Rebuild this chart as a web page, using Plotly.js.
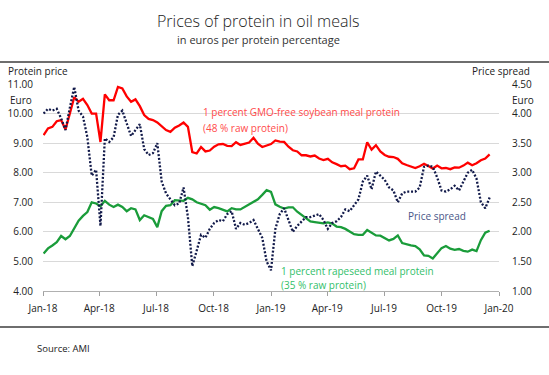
<!DOCTYPE html>
<html>
<head>
<meta charset="utf-8">
<script src="https://cdn.plot.ly/plotly-3.0.1.min.js"></script>
<style>html,body{margin:0;padding:0;background:#fff;}#chart{width:549px;height:375px;}</style>
</head>
<body>
<div id="chart"></div>
<script>
// Weekly observations, starting first week of January 2018
const startDate = '2018-01-02';
const soybeanProtein = [9.27,9.50,9.55,9.74,9.78,9.46,10.00,10.55,10.40,10.50,
10.29,10.00,10.00,9.04,10.65,10.45,10.45,10.90,10.85,10.58,
10.40,10.48,10.25,9.95,9.82,9.78,9.70,9.58,9.44,9.38,
9.52,9.60,9.70,9.55,8.70,8.65,8.87,8.72,8.75,8.88,
8.96,8.97,8.91,8.90,9.03,8.94,8.98,9.02,9.18,8.98,
8.87,8.92,8.97,9.09,9.05,9.04,8.88,8.76,8.72,8.59,
8.59,8.55,8.58,8.48,8.43,8.47,8.35,8.29,8.22,8.24,
8.12,8.15,8.45,8.45,9.03,8.78,8.93,8.72,8.60,8.54,
8.53,8.47,8.32,8.26,8.21,8.16,8.22,8.30,8.23,8.14,
8.24,8.15,8.16,8.12,8.18,8.17,8.24,8.34,8.25,8.32,
8.42,8.48,8.62];
const rapeseedProtein = [5.27,5.44,5.54,5.65,5.86,5.75,5.86,6.12,6.38,6.54,
6.67,7.00,6.96,6.87,7.05,6.92,6.84,6.92,6.84,6.70,
6.80,6.76,6.40,6.56,6.50,6.44,6.16,6.70,6.88,6.90,
7.07,7.07,7.05,7.15,7.10,7.00,6.96,6.90,6.75,6.84,
6.80,6.75,6.69,6.80,6.76,6.76,6.84,6.94,7.02,7.10,
7.25,7.41,7.35,6.93,6.85,6.79,6.83,6.83,6.68,6.56,
6.44,6.35,6.33,6.31,6.29,6.32,6.28,6.18,6.16,6.10,
6.00,5.92,5.90,5.90,6.06,5.97,5.88,5.87,5.79,5.71,
5.76,5.88,5.62,5.57,5.54,5.52,5.41,5.20,5.19,5.10,
5.26,5.45,5.52,5.43,5.39,5.42,5.36,5.33,5.40,5.35,
5.72,5.97,6.04];
const priceSpread = [4.00,4.08,4.05,4.08,3.92,3.72,4.10,4.45,4.05,3.95,
3.60,2.95,3.05,2.10,3.58,3.52,3.60,3.98,4.05,3.85,
3.62,3.72,3.82,3.40,3.30,3.33,3.50,2.85,2.65,2.55,
2.45,2.48,2.75,2.25,1.42,1.68,1.95,1.90,2.05,2.15,
2.20,2.18,2.30,2.35,2.05,2.15,2.12,2.15,2.20,2.05,
1.90,1.50,1.35,2.05,2.30,2.40,2.20,2.00,2.10,2.18,
2.25,2.25,2.28,2.30,2.20,2.05,2.15,2.18,2.25,2.38,
2.35,2.45,2.55,2.85,2.95,2.72,3.02,2.95,2.88,2.75,
2.70,2.50,2.65,2.68,2.68,2.68,2.75,3.10,3.12,3.10,
2.92,2.70,2.68,2.72,2.78,2.70,2.85,3.00,3.05,2.90,
2.50,2.40,2.58];

const xTickLabels = ['Jan-18','Apr-18','Jul-18','Oct-18','Jan-19','Apr-19','Jul-19','Oct-19','Jan-20'];
const xTickDates = ['2018-01-01','2018-04-01','2018-07-01','2018-10-01','2019-01-01','2019-04-01','2019-07-01','2019-10-01','2020-01-01'];

// weekly dates
const dates = [];
{
  const d0 = new Date(startDate + 'T00:00:00Z');
  for (let i = 0; i < soybeanProtein.length; i++) {
    const d = new Date(d0.getTime() + i * 7 * 86400000);
    dates.push(d.toISOString().slice(0, 10));
  }
}

// layout geometry (pixels)
const W = 549, H = 375;
const M = {l: 43, r: 50, t: 84, b: 84};
const plotW = W - M.l - M.r, plotH = H - M.t - M.b;
const px = x => (x - M.l) / plotW;
const py = y => (H - M.b - y) / plotH;

const FONT = 'Open Sans, sans-serif';

const traces = [
  {x: dates, y: soybeanProtein, type: 'scatter', mode: 'lines', name: 'soy',
   line: {color: '#ff0000', width: 2.3}, yaxis: 'y'},
  {x: dates, y: rapeseedProtein, type: 'scatter', mode: 'lines', name: 'rape',
   line: {color: '#1a9c3a', width: 2.3}, yaxis: 'y'},
  {x: dates, y: priceSpread, type: 'scatter', mode: 'lines', name: 'spread',
   line: {color: '#121a4a', width: 2.3, dash: '2px,1.8px'}, yaxis: 'y2'}
];

function ann(text, x, y, opts) {
  return Object.assign({text: text, xref: 'paper', yref: 'paper', x: px(x), y: py(y),
    showarrow: false, xanchor: 'left', yanchor: 'middle', borderpad: 0,
    font: {family: FONT, size: 10, color: '#222'}}, opts || {});
}

const annotations = [
  ann('Prices of protein in oil meals', 258.5, 21, {xanchor: 'center', font: {family: FONT, size: 16, color: '#222', weight: 300}}),
  ann('in euros per protein percentage', 258.5, 40, {xanchor: 'center', font: {family: FONT, size: 11, color: '#333'}}),
  ann('Protein price', 7, 71),
  ann('Euro', 9, 99.5),
  ann('Price spread', 531, 71, {xanchor: 'right'}),
  ann('Euro', 511, 100),
  ann('1 percent GMO-free soybean meal protein', 202, 112.5, {font: {family: FONT, size: 10, color: '#ff4a4a'}}),
  ann('(48 % raw protein)', 202, 127.5, {font: {family: FONT, size: 10, color: '#ff4a4a'}}),
  ann('Price spread', 407, 215.5, {font: {family: FONT, size: 10, color: '#4a5688'}}),
  ann('1 percent rapeseed meal protein', 280, 271, {font: {family: FONT, size: 10, color: '#33c06a'}}),
  ann('(35 % raw protein)', 280, 285, {font: {family: FONT, size: 10, color: '#33c06a'}}),
  ann('Source: AMI', 36, 348, {font: {family: FONT, size: 9.5, color: '#222'}})
];

const shapes = [
  {type: 'line', xref: 'paper', yref: 'paper', x0: px(0), x1: px(W), y0: py(62), y1: py(62),
   line: {color: '#6e6e6e', width: 2}},
  {type: 'line', xref: 'paper', yref: 'paper', x0: px(0), x1: px(W), y0: py(327), y1: py(327),
   line: {color: '#6e6e6e', width: 2}}
];

const layout = {
  width: W, height: H, margin: M, showlegend: false,
  paper_bgcolor: '#fff', plot_bgcolor: '#fff',
  font: {family: FONT, size: 10, color: '#222'},
  xaxis: {type: 'date', range: ['2018-01-01', '2020-01-01'],
    tickvals: xTickDates, ticktext: xTickLabels,
    ticks: 'outside', ticklen: 4, tickcolor: '#a0a0a0', tickwidth: 1,
    showline: true, linecolor: '#b0b0b0', linewidth: 1,
    showgrid: false, zeroline: false, ticklabelstandoff: 4,
    tickfont: {family: FONT, size: 10, color: '#222'}, fixedrange: true},
  yaxis: {range: [4, 11], dtick: 1, tick0: 4, tickformat: '.2f',
    showgrid: true, gridcolor: '#d9d9d9', gridwidth: 1, zeroline: false,
    ticks: '', ticklabelstandoff: 9,
    tickfont: {family: FONT, size: 10, color: '#222'}},
  yaxis2: {range: [1, 4.5], dtick: 0.5, tick0: 1, tickformat: '.2f',
    overlaying: 'y', side: 'right', showgrid: false, zeroline: false,
    ticks: '', ticklabelstandoff: 12,
    tickfont: {family: FONT, size: 10, color: '#222'}},
  annotations: annotations,
  shapes: shapes
};

Plotly.newPlot('chart', traces, layout, {displayModeBar: false, staticPlot: true});
</script>
</body>
</html>
